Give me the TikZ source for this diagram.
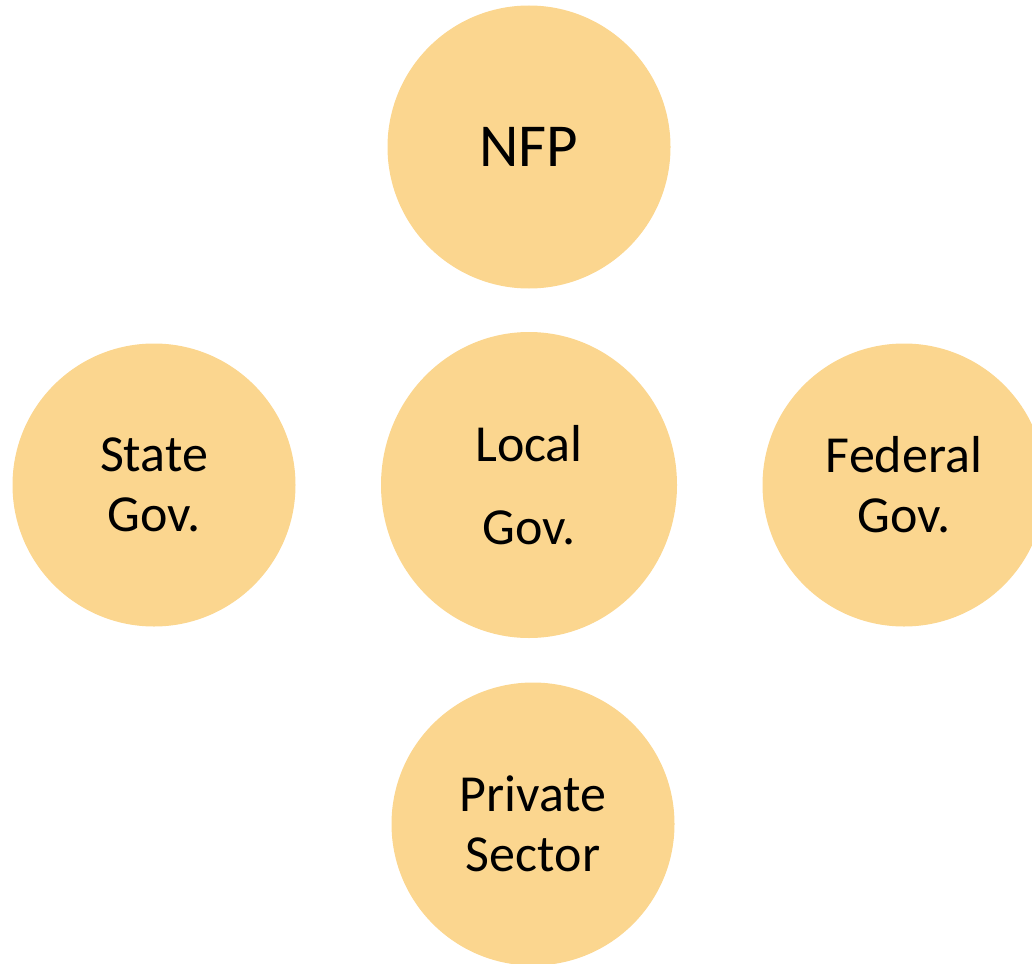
\documentclass[tikz,border=0pt]{standalone}
\usepackage{fontspec}
\setmainfont{Carlito}
\usetikzlibrary{positioning, shapes.geometric}
\definecolor{sectorfill}{RGB}{251,214,143}

\begin{document}
\begin{tikzpicture}[x=1pt, y=1pt, on grid,
    sector/.style={circle, fill=sectorfill, minimum size=283pt, inner sep=0pt, align=center,
      font=\fontsize{52}{60}\selectfont},
    hub/.style={ellipse, fill=sectorfill, minimum width=296pt, minimum height=306pt, inner sep=0pt, align=center,
      font=\fontsize{52}{60}\selectfont}]

  \useasboundingbox (0,0) rectangle (1032,-963);

  \node[hub] (local) at (529,-485) {Local\\[23pt]Gov.};
  \node[sector, above=338pt of local, font=\fontsize{61}{70}\selectfont] (nfp) {NFP};
  \node[sector, left=375pt of local] (state) {State\\Gov.};
  \node[sector, right=375pt of local] (federal) {Federal\\Gov.};
  \node[sector, below=339pt of local, xshift=4pt] (private) {Private\\Sector};

\end{tikzpicture}
\end{document}
